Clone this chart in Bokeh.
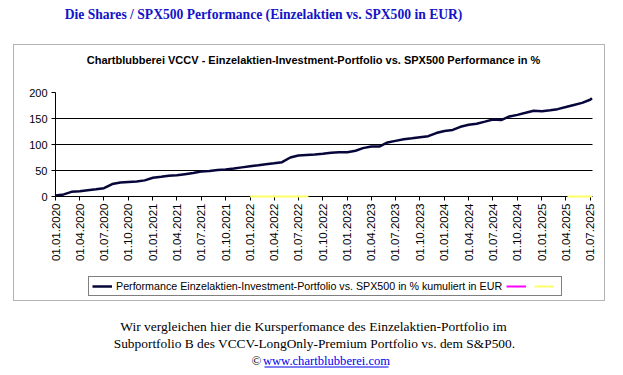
import math
import pandas as pd
from bokeh.plotting import figure
from bokeh.models import (Range1d, FixedTicker, Label, BoxAnnotation, Legend, LegendItem,
                          ColumnDataSource, DatetimeTickFormatter)
from bokeh.embed import file_html
from bokeh.resources import INLINE

# ---------------- data ----------------
perf_dates = list(pd.date_range("2020-01-01", "2025-07-01", freq="MS")) + [pd.Timestamp("2025-07-08")]
perf_values = [2, 4, 9, 10, 12, 14, 16, 24, 27, 28,
               29, 31, 36, 38, 40, 41, 43, 45, 48, 49,
               51, 52, 54, 56, 58, 60, 62, 64, 66, 75,
               79, 80, 81, 82, 84, 85, 85, 88, 93, 96,
               96, 104, 107, 110, 112, 114, 116, 122, 126, 128,
               134, 138, 140, 144, 148, 147, 154, 157, 161, 165,
               164, 166, 168, 172, 176, 180, 186, 189]
magenta_dates = [pd.Timestamp("2020-01-01")]
magenta_values = [0]
yellow_dates = [pd.Timestamp("2022-01-01"), pd.Timestamp("2022-08-08"), pd.Timestamp("2022-08-09"),
                pd.Timestamp("2025-04-07"), pd.Timestamp("2025-07-08")]
yellow_values = [0, 0, float("nan"), 0, 0]
tick_dates = list(pd.date_range("2020-01-01", "2025-07-01", freq="QS"))
y_ticks = [0, 50, 100, 150, 200]
grid_levels = [50, 100, 150]
x_start = pd.Timestamp("2020-01-01")
x_end = pd.Timestamp("2025-07-10")
y_start, y_end = 0, 200

title_text = "Die Shares / SPX500 Performance (Einzelaktien vs. SPX500 in EUR)"
chart_title = "Chartblubberei VCCV - Einzelaktien-Investment-Portfolio vs. SPX500 Performance in %"
legend_label = "Performance Einzelaktien-Investment-Portfolio vs. SPX500 in % kumuliert in EUR"
footer1 = "Wir vergleichen hier die Kursperfomance des Einzelaktien-Portfolio im"
footer2 = "Subportfolio B des VCCV-LongOnly-Premium Portfolio vs. dem S&P500."
footer_link = "www.chartblubberei.com"

# ---------------- layout geometry (canvas px) ----------------
W, H = 623, 375
FL, FR, FT, FB = 55, 592, 92, 196  # plot area edges

ms0 = x_start.value // 10**6
ms1 = x_end.value // 10**6
ms_per_px = (ms1 - ms0) / (FR - FL)
val_per_px = (y_end - y_start) / (FB - FT)
xr = Range1d(ms0 - FL * ms_per_px, ms1 + (W - FR) * ms_per_px)
yr = Range1d(y_start - (H - FB) * val_per_px, y_end + FT * val_per_px)

p = figure(width=W, height=H, output_backend="svg", toolbar_location=None,
           x_axis_type="datetime", x_range=xr, y_range=yr, title_location=None,
           min_border_left=0, min_border_right=0, min_border_top=0, min_border_bottom=0)
p.outline_line_color = None
p.background_fill_color = "white"
p.border_fill_color = "white"
p.xgrid.visible = False
p.ygrid.visible = False

# grid lines across the plot area
p.segment(x0=[x_start] * len(grid_levels), x1=[x_end] * len(grid_levels),
          y0=grid_levels, y1=grid_levels, line_color="black", line_width=1)

src = ColumnDataSource(dict(x=perf_dates, y=perf_values))
r_main = p.line("x", "y", source=src, line_color="#06063a", line_width=2.5)
r_mag = p.line(x=magenta_dates, y=magenta_values, line_color="#ff00ff", line_width=2)
r_yel = p.line(x=yellow_dates, y=yellow_values, line_color="#ffff66", line_width=2, level="overlay")

# axes
xa = p.xaxis[0]
xa.fixed_location = y_start
xa.bounds = (ms0, ms1)
xa.ticker = FixedTicker(ticks=[d.value // 10**6 for d in tick_dates])
xa.formatter = DatetimeTickFormatter(days="%d.%m.%Y", months="%d.%m.%Y", years="%d.%m.%Y")
xa.major_label_orientation = math.pi / 2
xa.major_label_text_font = "Liberation Sans"
xa.major_label_text_font_size = "11.5px"
xa.major_label_text_color = "black"
xa.major_tick_out = 4
xa.major_tick_in = 0
xa.minor_tick_line_color = None
xa.axis_line_color = "black"
xa.major_tick_line_color = "black"
xa.major_label_standoff = 3

ya = p.yaxis[0]
ya.fixed_location = ms0
ya.bounds = (y_start, y_end)
ya.ticker = FixedTicker(ticks=y_ticks)
ya.major_label_text_font = "Liberation Sans"
ya.major_label_text_font_size = "11px"
ya.major_label_text_color = "black"
ya.major_tick_out = 4
ya.major_tick_in = 0
ya.minor_tick_line_color = None
ya.axis_line_color = "black"
ya.major_tick_line_color = "black"
ya.major_label_standoff = 4

def sx(cx):
    return cx

def sy(cy):
    return H - cy

# outer chart box
p.add_layout(BoxAnnotation(left=sx(13), right=sx(604), top=sy(44), bottom=sy(300),
                           left_units="screen", right_units="screen",
                           top_units="screen", bottom_units="screen",
                           fill_alpha=0, line_color="black", line_width=1, level="underlay"))

# texts
def add_text(cx, cy, text, font, size, color="black", style="normal", align="center"):
    p.add_layout(Label(x=sx(cx), y=sy(cy), x_units="screen", y_units="screen", text=text,
                       text_align=align, text_baseline="middle", text_font=font,
                       text_font_style=style, text_font_size=size, text_color=color))

add_text(263, 14, title_text, "Liberation Serif", "13.6px", "#1414c8", "bold")
add_text(313, 59, chart_title, "Liberation Sans", "11px", style="bold")
add_text(313, 326, footer1, "Liberation Serif", "13.5px")
add_text(314, 343, footer2, "Liberation Serif", "13.4px")
add_text(256, 360, "\u00a9", "Liberation Serif", "13px")
add_text(326, 360, footer_link, "Liberation Serif", "12.6px", "#0000ee")
p.add_layout(BoxAnnotation(left=sx(264), right=sx(388), top=sy(366), bottom=sy(367),
                           left_units="screen", right_units="screen",
                           top_units="screen", bottom_units="screen",
                           fill_color="#0000ee", fill_alpha=1, line_color=None))

# legend
legend = Legend(items=[LegendItem(label=legend_label, renderers=[r_main]),
                       LegendItem(label=" ", renderers=[r_mag]),
                       LegendItem(label=" ", renderers=[r_yel])],
                location=(sx(88), sy(296)), orientation="horizontal",
                label_text_font="Liberation Sans", label_text_font_size="10.7px",
                label_text_color="black", glyph_width=20, glyph_height=10,
                label_width=0, label_height=10,
                label_standoff=4, spacing=4, padding=3, margin=0,
                border_line_color="black", border_line_width=1,
                background_fill_color="white", background_fill_alpha=1)
p.add_layout(legend)

open("out.html", "w").write(file_html(p, INLINE))
